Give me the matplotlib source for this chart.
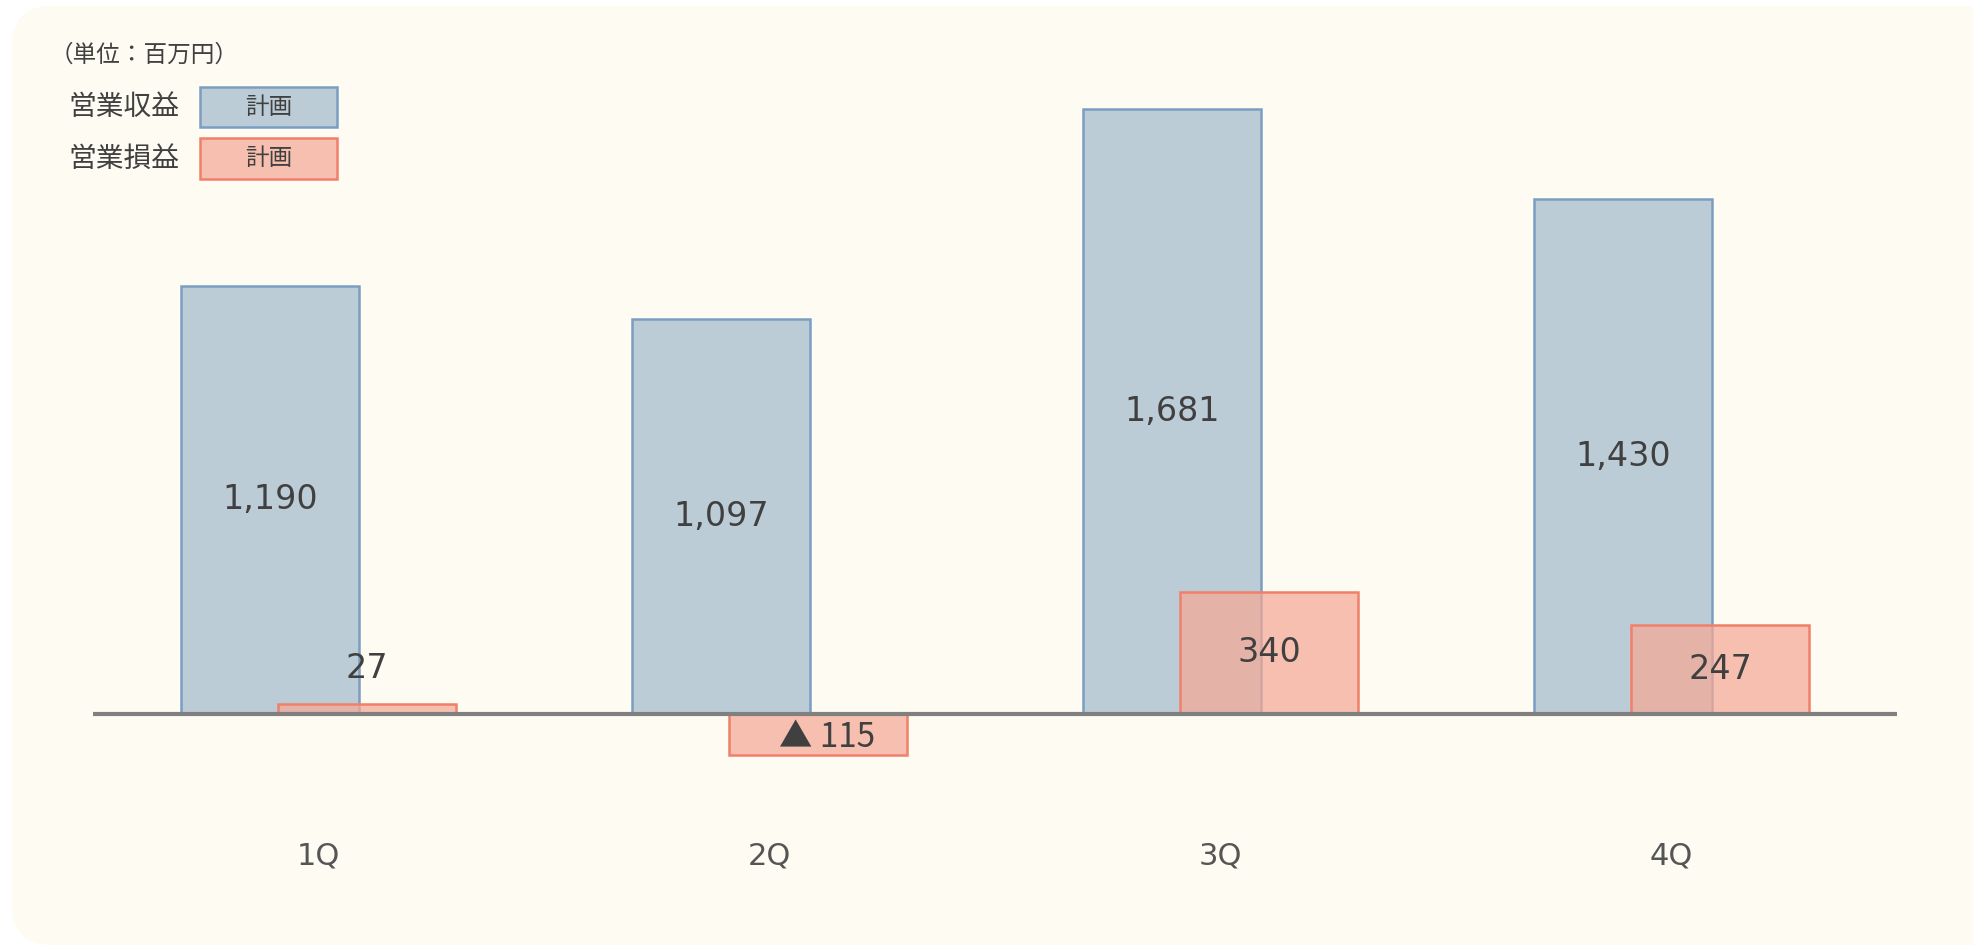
import matplotlib
matplotlib.use("Agg")
import matplotlib.pyplot as plt
from matplotlib.patches import Rectangle, FancyBboxPatch
from matplotlib.colors import to_rgba

# data (単位：百万円)
quarters = ["1Q", "2Q", "3Q", "4Q"]
revenue = [1190, 1097, 1681, 1430]   # 営業収益 計画
profit = [27, -115, 340, 247]        # 営業損益 計画

blue_fill = "#BCCCD7"
blue_edge = "#7A9EC2"
red_fill = to_rgba("#F5A996", 0.72)
red_edge = "#F0806A"
txt = "#404040"
cjk = ["Noto Sans CJK JP", "DejaVu Sans"]

W, H = 1974, 946
fig = plt.figure(figsize=(W / 100, H / 100), dpi=100)
fig.patch.set_facecolor("white")

# rounded cream panel
bg = FancyBboxPatch((0.12, 0.01), 20.5, 9.39, boxstyle="round,pad=0,rounding_size=0.4",
                    transform=fig.dpi_scale_trans, facecolor="#FEFBF2", edgecolor="none", zorder=0)
fig.add_artist(bg)

ax = fig.add_axes([93 / W, 0, 1804 / W, 1])
ax.set_xlim(-0.3925, 3.6075)
ax.set_ylim(-644.4, 1983.3)
ax.axis("off")
ax.patch.set_alpha(0)

x = list(range(len(quarters)))
bw = 0.395
off = 0.215

ax.bar(x, revenue, width=bw, color=blue_fill, edgecolor=blue_edge, linewidth=1.8, zorder=2)
ax.bar([i + off for i in x], profit, width=bw, color=red_fill, edgecolor=red_edge,
       linewidth=1.8, zorder=3)
ax.axhline(0, color="#808080", linewidth=3, zorder=4)

for i, v in enumerate(revenue):
    ax.text(i, v / 2, f"{v:,}", ha="center", va="center", fontsize=24, color=txt, zorder=5)

for i, v in enumerate(profit):
    xi = i + off
    if v < 0:
        ax.text(xi + 0.02, v / 2 - 8, f"▲ {abs(v):,}", ha="center", va="center", fontsize=24,
                color=txt, family=cjk, zorder=5)
    elif v < 60:
        ax.annotate(f"{v:,}", (xi, v), xytext=(0, 14), textcoords="offset points",
                    ha="center", va="bottom", fontsize=24, color=txt, zorder=5)
    else:
        ax.text(xi, v / 2, f"{v:,}", ha="center", va="center", fontsize=24, color=txt, zorder=5)

for i, q in enumerate(quarters):
    ax.text(i + off / 2, -394, q, ha="center", va="center", fontsize=22, color="#555555")

# unit + legend
fig.text(50 / W, 1 - 55 / H, "（単位：百万円）", family=cjk, fontsize=17, color=txt,
         ha="left", va="center")
legend_rows = [("営業収益", blue_fill, blue_edge, 87, 127),
               ("営業損益", red_fill, red_edge, 138, 179)]
for label, fc, ec, top, bot in legend_rows:
    fig.text(68 / W, 1 - (top + bot) / 2 / H, label, family=cjk, fontsize=20, color=txt,
             ha="left", va="center")
    fig.add_artist(Rectangle((200 / W, 1 - bot / H), 137 / W, (bot - top) / H,
                             transform=fig.transFigure, facecolor=fc, edgecolor=ec, linewidth=1.8))
    fig.text(268.5 / W, 1 - (top + bot) / 2 / H, "計画", family=cjk, fontsize=17, color=txt,
             ha="center", va="center")

fig.savefig("out.png", dpi=100)
